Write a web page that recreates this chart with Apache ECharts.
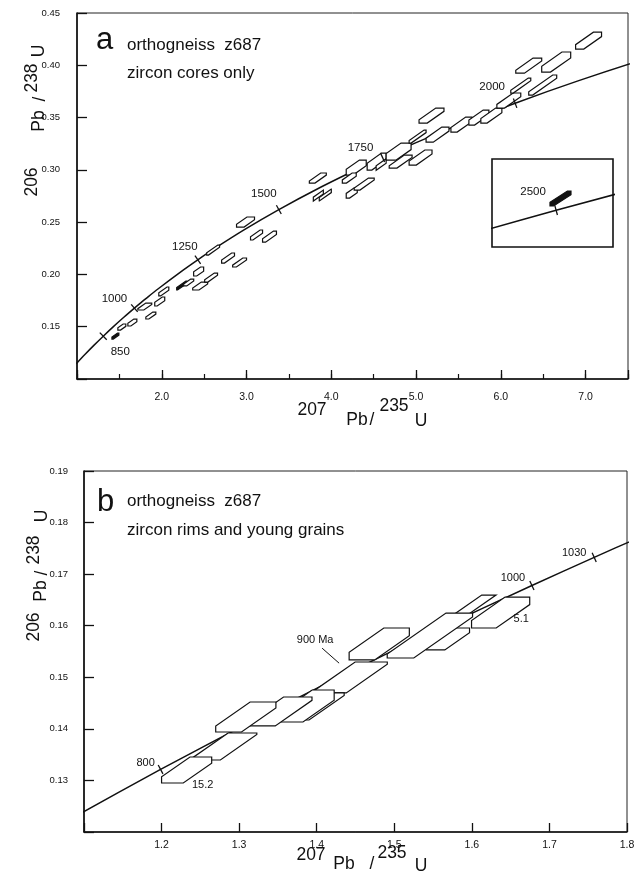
<!DOCTYPE html>
<html>
<head>
<meta charset="utf-8">
<script src="https://cdn.jsdelivr.net/npm/echarts@6/dist/echarts.min.js"></script>
<style>
	html, body { margin: 0; padding: 0; background: #fff; }
	#chart { width: 639px; height: 880px; }
</style>
</head>
<body>
<div id="chart"></div>
<script>
// concordia: age (Ma), 207Pb/235U, 206Pb/238U
let concordiaAge = [700, 750, 800, 850, 900, 950, 1000, 1030, 1050, 1100, 1200, 1250, 1300, 1400, 1500, 1600, 1700, 1750, 1800, 1900, 2000, 2100, 2200, 2300, 2400, 2500, 2600];
let concordiaX = [0.99251, 1.09308, 1.19873, 1.30971, 1.42629, 1.54873, 1.67743, 1.75771, 1.81255, 1.95453, 2.26030, 2.42486, 2.59774, 2.97010, 3.38099, 3.83442, 4.33477, 4.60405, 4.88692, 5.49618, 6.16852, 6.91045, 7.72917, 8.63261, 9.62957, 10.72971, 11.94371];
let concordiaY = [0.11470, 0.12338, 0.13213, 0.14094, 0.14983, 0.15878, 0.16780, 0.17325, 0.17690, 0.18606, 0.20460, 0.21398, 0.22344, 0.24256, 0.26199, 0.28172, 0.30175, 0.31189, 0.32210, 0.34277, 0.36377, 0.38509, 0.40674, 0.42873, 0.45107, 0.47375, 0.49679];

// age marks on the concordia
let ticksA = [850, 1000, 1250, 1500, 1750, 2000];
let ticksB = [800, 900, 1000, 1030];
let ticksInset = [2500];

// error boxes: [207/235, 206/238, half width x, half width y, correlation band]
let spotsA = [
	[1.453, 0.1411, 0.041, 0.0029, 0.5],
	[1.529, 0.1497, 0.047, 0.0029, 0.7],
	[1.653, 0.1540, 0.053, 0.0033, 0.7],
	[1.800, 0.1693, 0.082, 0.0033, 0.8],
	[1.871, 0.1607, 0.059, 0.0033, 0.6],
	[1.976, 0.1741, 0.059, 0.0043, 0.6],
	[2.024, 0.1837, 0.059, 0.0043, 0.5],
	[2.235, 0.1894, 0.059, 0.0043, 0.35],
	[2.318, 0.1923, 0.059, 0.0033, 0.6],
	[2.453, 0.1889, 0.088, 0.0038, 0.8],
	[2.582, 0.1970, 0.076, 0.0043, 0.5],
	[2.435, 0.2028, 0.059, 0.0043, 0.7],
	[2.606, 0.2233, 0.076, 0.0048, 0.35],
	[2.782, 0.2157, 0.076, 0.0048, 0.5],
	[2.918, 0.2114, 0.082, 0.0043, 0.5],
	[2.988, 0.2501, 0.106, 0.0048, 0.8],
	[3.118, 0.2377, 0.071, 0.0048, 0.5],
	[3.271, 0.2362, 0.082, 0.0053, 0.5],
	[3.841, 0.2922, 0.100, 0.0048, 0.6],
	[3.847, 0.2754, 0.059, 0.0062, 0.3],
	[3.929, 0.2759, 0.071, 0.0057, 0.3],
	[4.294, 0.3022, 0.118, 0.0072, 0.7],
	[4.212, 0.2922, 0.082, 0.0048, 0.6],
	[4.241, 0.2778, 0.065, 0.0048, 0.7],
	[4.388, 0.2864, 0.118, 0.0057, 0.5],
	[4.535, 0.3079, 0.112, 0.0081, 0.6],
	[4.588, 0.3051, 0.059, 0.0072, 0.3],
	[4.794, 0.3175, 0.147, 0.0081, 0.8],
	[4.818, 0.3079, 0.135, 0.0062, 0.6],
	[5.053, 0.3118, 0.135, 0.0072, 0.6],
	[5.182, 0.3519, 0.147, 0.0072, 0.6],
	[5.018, 0.3318, 0.100, 0.0062, 0.3],
	[5.253, 0.3337, 0.135, 0.0072, 0.6],
	[5.535, 0.3433, 0.124, 0.0072, 0.6],
	[5.741, 0.3500, 0.118, 0.0072, 0.6],
	[5.888, 0.3519, 0.124, 0.0072, 0.6],
	[6.094, 0.3663, 0.141, 0.0072, 0.6],
	[6.235, 0.3806, 0.118, 0.0072, 0.3],
	[6.494, 0.3811, 0.165, 0.0096, 0.3],
	[6.329, 0.3997, 0.153, 0.0072, 0.6],
	[6.653, 0.4031, 0.171, 0.0096, 0.6],
	[7.035, 0.4236, 0.153, 0.0081, 0.6]
];
let filledA = [0, 7];

let spotsB = [
	[1.6371, 0.16256, 0.0375, 0.00300, 0.8],
	[1.5989, 0.16353, 0.0537, 0.00242, 0.4],
	[1.5692, 0.15743, 0.0278, 0.00213, 0.8],
	[1.5459, 0.15810, 0.0550, 0.00436, 0.5],
	[1.4806, 0.15646, 0.0388, 0.00310, 0.8],
	[1.4438, 0.14996, 0.0472, 0.00300, 0.8],
	[1.4063, 0.14434, 0.0291, 0.00262, 0.35],
	[1.3882, 0.14443, 0.0343, 0.00310, 0.8],
	[1.3519, 0.14337, 0.0420, 0.00281, 0.8],
	[1.3086, 0.14230, 0.0388, 0.00291, 0.8],
	[1.2808, 0.13658, 0.0420, 0.00262, 0.8],
	[1.2323, 0.13202, 0.0323, 0.00252, 0.82]
];

let spotsInset = [
	[10.766, 0.48066, 0.0868, 0.00443, 0.4]
];

// numbers written next to two boxes in b
let spotLabelB = ['15.2', '5.1'];
let spotLabelX = [1.2530, 1.6636];
let spotLabelY = [0.12911, 0.16130];

let black = '#111';
let fontFam = '"Liberation Sans", Arial, Helvetica, sans-serif';

// label placement for the age marks (pixels from the mark)
let ageLabelA = {
	850: {dx: 17, dy: 16}, 1000: {dx: -20, dy: -9}, 1250: {dx: -13, dy: -13},
	1500: {dx: -15, dy: -16}, 1750: {dx: -22, dy: -10}, 2000: {dx: -23, dy: -16}
};
let ageLabelB = {
	800: {dx: -15, dy: -6}, 1000: {dx: -19, dy: -8}, 1030: {dx: -20, dy: -4},
	900: {dx: -22, dy: -38, text: '900 Ma', noTick: true, leader: [-15, -30, 2, -15]}
};
let ageLabelInset = {2500: {dx: -23, dy: -18}};

// cut a polygon with a half plane (keep f <= 0)
function clipPoly(poly, f){
	let out = [];
	for(let i = 0; i < poly.length; i++){
		let a = poly[i];
		let b = poly[(i + 1) % poly.length];
		let fa = f(a), fb = f(b);
		if(fa <= 0) out.push(a);
		if((fa <= 0) != (fb <= 0)){
			let t = fa / (fa - fb);
			out.push([a[0] + t * (b[0] - a[0]), a[1] + t * (b[1] - a[1])]);
		}
	}
	return out;
}

// error box = rectangle cut by a band along the correlation
function spotRender(slope, filled){
	return function(params, api){
		let cx = api.value(0), cy = api.value(1);
		let hx = api.value(2), hy = api.value(3);
		let d = api.value(4) * hy;
		let poly = [[cx - hx, cy - hy], [cx + hx, cy - hy], [cx + hx, cy + hy], [cx - hx, cy + hy]];
		poly = clipPoly(poly, p => (p[1] - cy) - slope * (p[0] - cx) - d);
		poly = clipPoly(poly, p => slope * (p[0] - cx) - (p[1] - cy) - d);
		let pts = poly.map(p => api.coord(p));
		let isFilled = filled.indexOf(params.dataIndex) >= 0;
		return {
			type: 'polygon',
			shape: {points: pts},
			style: {fill: isFilled ? black : '#fff', stroke: black, lineWidth: 1.2}
		};
	};
}

// small cross mark on the concordia with its age
function tickRender(labels, fontSize){
	return function(params, api){
		let age = api.value(0);
		let i = concordiaAge.indexOf(age);
		let p = api.coord([concordiaX[i], concordiaY[i]]);
		let a = api.coord([concordiaX[i - 1], concordiaY[i - 1]]);
		let b = api.coord([concordiaX[i + 1], concordiaY[i + 1]]);
		let dx = b[0] - a[0], dy = b[1] - a[1];
		let len = Math.hypot(dx, dy);
		let nx = -dy / len * 5, ny = dx / len * 5;
		let lab = labels[age];
		let children = [];
		if(!lab.noTick){
			children.push({type: 'line', shape: {x1: p[0] - nx, y1: p[1] - ny, x2: p[0] + nx, y2: p[1] + ny},
				style: {stroke: black, lineWidth: 1.3}});
		}
		if(lab.leader){
			children.push({type: 'line', shape: {x1: p[0] + lab.leader[0], y1: p[1] + lab.leader[1], x2: p[0] + lab.leader[2], y2: p[1] + lab.leader[3]},
				style: {stroke: black, lineWidth: 1}});
		}
		children.push({type: 'text', x: p[0] + lab.dx, y: p[1] + lab.dy,
			style: {text: lab.text || String(age), fill: black, font: fontSize + 'px ' + fontFam, align: 'center', verticalAlign: 'middle'}});
		return {type: 'group', children: children};
	};
}

// plain text placed at a data point
function textRender(params, api){
	let p = api.coord([api.value(0), api.value(1)]);
	return {type: 'text', x: p[0], y: p[1],
		style: {text: spotLabelB[params.dataIndex], fill: black, font: '11px ' + fontFam, align: 'center', verticalAlign: 'middle'}};
}

function tickData(list){
	return list.map(age => {
		let i = concordiaAge.indexOf(age);
		return [age, concordiaX[i], concordiaY[i]];
	});
}

function concordiaData(){
	let out = [];
	for(let i = 0; i < concordiaAge.length; i++) out.push([concordiaX[i], concordiaY[i]]);
	return out;
}

function lineSeries(xi, yi){
	return {
		type: 'line', xAxisIndex: xi, yAxisIndex: yi, data: concordiaData(),
		showSymbol: false, smooth: 0.3, clip: true, z: 2,
		lineStyle: {color: black, width: 1.5}
	};
}

// pieces of the axis titles (superscript mass numbers)
function titlePieces(items, rotate){
	return items.map(it => ({
		type: 'text', x: it[1], y: it[2], rotation: rotate ? Math.PI / 2 : 0,
		style: {text: it[0], fill: black, font: '17.5px ' + fontFam, align: 'center', verticalAlign: 'middle'}
	}));
}

function note(text, x, y, size){
	return {type: 'text', x: x, y: y,
		style: {text: text, fill: black, font: size + 'px ' + fontFam, align: 'left', verticalAlign: 'middle'}};
}

let axisBase = {
	type: 'value',
	axisLine: {show: true, onZero: false, lineStyle: {color: black, width: 1.6}},
	axisTick: {show: true, inside: true, length: 9, lineStyle: {color: black, width: 1.3}},
	splitLine: {show: false}
};

let myChart = echarts.init(document.getElementById('chart'), null, {renderer: 'canvas'});

let option = {
	animation: false,
	backgroundColor: '#fff',
	grid: [
		{left: 77, top: 13, width: 551, height: 366, show: true, borderColor: '#222', borderWidth: 1},
		{left: 84, top: 471, width: 543, height: 361, show: true, borderColor: '#222', borderWidth: 1},
		{left: 492, top: 159, width: 121, height: 88, show: true, borderColor: black, borderWidth: 1.6, backgroundColor: '#fff'}
	],
	xAxis: [
		Object.assign({}, axisBase, {gridIndex: 0, min: 1, max: 7.5, interval: 1,
			axisLabel: {color: black, fontSize: 10.5, fontFamily: fontFam, margin: 13,
				formatter: v => (v > 1.5 && v < 7.2) ? v.toFixed(1) : ''}}),
		Object.assign({}, axisBase, {gridIndex: 0, min: 1, max: 7.5, interval: 0.5, position: 'bottom',
			axisLine: {show: false}, axisLabel: {show: false},
			axisTick: {show: true, inside: true, length: 5, lineStyle: {color: black, width: 1.2}}}),
		Object.assign({}, axisBase, {gridIndex: 1, min: 1.1, max: 1.8, interval: 0.1,
			axisLabel: {color: black, fontSize: 10.5, fontFamily: fontFam, margin: 8,
				formatter: v => v > 1.15 ? v.toFixed(1) : ''}}),
		{type: 'value', gridIndex: 2, min: 10.2, max: 11.2, show: false}
	],
	yAxis: [
		Object.assign({}, axisBase, {gridIndex: 0, min: 0.10, max: 0.45, interval: 0.05,
			axisTick: {show: true, inside: true, length: 10, lineStyle: {color: black, width: 1.3}},
			axisLabel: {color: black, fontSize: 9.5, fontFamily: fontFam, margin: 17,
				formatter: v => v > 0.12 ? v.toFixed(2) : ''}}),
		Object.assign({}, axisBase, {gridIndex: 1, min: 0.12, max: 0.19, interval: 0.01,
			axisTick: {show: true, inside: true, length: 10, lineStyle: {color: black, width: 1.3}},
			axisLabel: {color: black, fontSize: 9.5, fontFamily: fontFam, margin: 16,
				formatter: v => v > 0.125 ? v.toFixed(2) : ''}}),
		{type: 'value', gridIndex: 2, min: 0.452, max: 0.504, show: false}
	],
	graphic: [].concat(
		[note('a', 96, 40, 31), note('orthogneiss  z687', 127, 45, 17), note('zircon cores only', 127, 73, 17),
		 note('b', 97, 502, 31), note('orthogneiss  z687', 127, 501, 17), note('zircon rims and young grains', 127, 530, 17)],
		titlePieces([['206', 32, 182], ['Pb', 39, 121], ['/', 40, 99], ['238', 32, 78], ['U', 39, 51]], true),
		titlePieces([['207', 312, 410], ['Pb', 357, 420], ['/', 372, 420], ['235', 394, 406], ['U', 421, 421]], false),
		titlePieces([['206', 34, 627], ['Pb', 41, 591], ['/', 42, 573], ['238', 34, 550], ['U', 42, 516]], true),
		titlePieces([['207', 311, 855], ['Pb', 344, 864], ['/', 372, 864], ['235', 392, 853], ['U', 421, 866]], false)
	),
	series: [
		lineSeries(0, 0),
		lineSeries(2, 1),
		lineSeries(3, 2),
		{
			type: 'custom', xAxisIndex: 0, yAxisIndex: 0, z: 3,
			renderItem: spotRender(0.057, filledA), encode: {x: 0, y: 1}, data: spotsA
		},
		{
			type: 'custom', xAxisIndex: 2, yAxisIndex: 1, z: 3,
			renderItem: spotRender(0.105, []), encode: {x: 0, y: 1}, data: spotsB
		},
		{
			type: 'custom', xAxisIndex: 3, yAxisIndex: 2, z: 3,
			renderItem: spotRender(0.0465, [0]), encode: {x: 0, y: 1}, data: spotsInset
		},
		{
			type: 'custom', xAxisIndex: 0, yAxisIndex: 0, z: 4, clip: false,
			renderItem: tickRender(ageLabelA, 11.5), encode: {x: 1, y: 2}, data: tickData(ticksA)
		},
		{
			type: 'custom', xAxisIndex: 2, yAxisIndex: 1, z: 4, clip: false,
			renderItem: tickRender(ageLabelB, 11), encode: {x: 1, y: 2}, data: tickData(ticksB)
		},
		{
			type: 'custom', xAxisIndex: 3, yAxisIndex: 2, z: 4, clip: false,
			renderItem: tickRender(ageLabelInset, 11.5), encode: {x: 1, y: 2}, data: tickData(ticksInset)
		},
		{
			type: 'custom', xAxisIndex: 2, yAxisIndex: 1, z: 5, clip: false,
			renderItem: textRender, encode: {x: 0, y: 1},
			data: spotLabelX.map((x, i) => [x, spotLabelY[i]])
		}
	]
};

myChart.setOption(option);
</script>
</body>
</html>
